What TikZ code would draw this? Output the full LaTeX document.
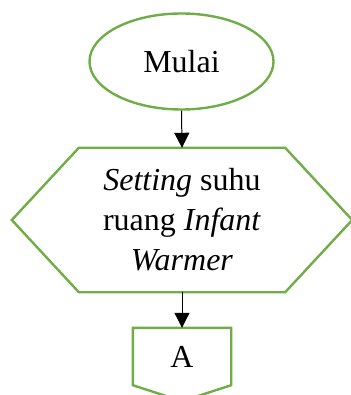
\documentclass[tikz,border=0pt]{standalone}
\usepackage{fontspec}
\setmainfont{Liberation Serif}
\usetikzlibrary{shapes.geometric,arrows.meta}
\definecolor{grn}{RGB}{112,173,71}
\begin{document}
\begin{tikzpicture}[x=1pt,y=-1pt,
  shapeline/.style={draw=grn,line width=2.4pt,line join=miter},
  conn/.style={draw=black,line width=1pt,-{Triangle[length=15pt,width=15pt]}},
  txt/.style={font=\fontsize{32}{40}\selectfont,align=center,inner sep=0pt}]
\useasboundingbox (0,0) rectangle (350,395);
% start ellipse
\node[ellipse,shapeline,minimum width=184pt,minimum height=96pt,txt] (start) at (181.5,61.5) {Mulai};
% hexagon process
\node[rectangle,minimum width=206pt,minimum height=144pt,txt] (proc) at (182,220)
  {\textit{Setting} suhu\\ruang \textit{Infant}\\\textit{Warmer}};
\draw[shapeline] (proc.north west) -- (proc.north east) -- ([xshift=67pt]proc.east)
  -- (proc.south east) -- (proc.south west) -- ([xshift=-67pt]proc.west) -- cycle;
% off-page connector
\node[rectangle,minimum width=98pt,minimum height=57pt,txt] (offp) at (182,356.5) {A};
\coordinate (offtip) at ([yshift=-16pt]offp.south);
\draw[shapeline] (offp.south west) -- (offp.north west) -- (offp.north east)
  -- (offp.south east) -- (offtip) -- cycle;
% connectors
\draw[conn] (start.south) -- (proc.north);
\draw[conn] (proc.south) -- (offp.north);
\end{tikzpicture}
\end{document}
